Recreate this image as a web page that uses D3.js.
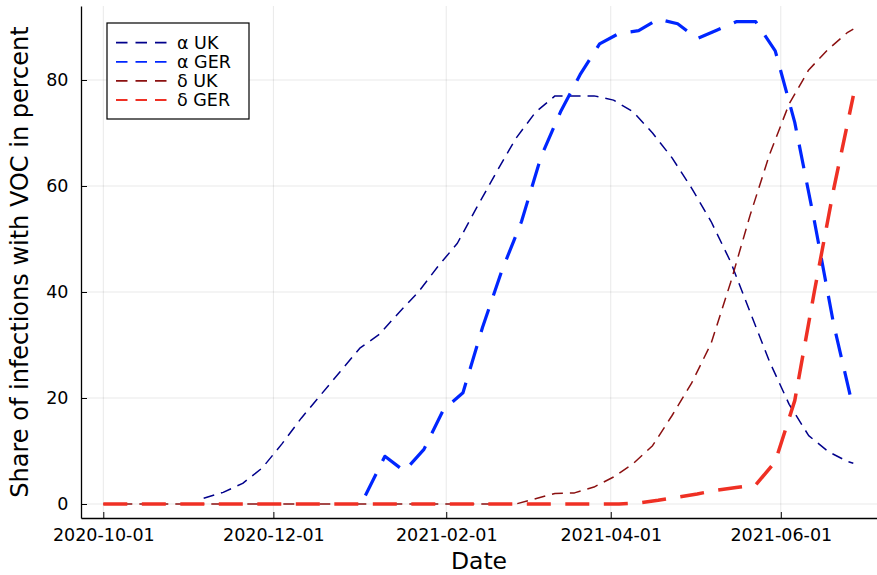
<!DOCTYPE html>
<html>
<head>
<meta charset="utf-8">
<script src="https://cdn.jsdelivr.net/npm/d3@7"></script>
<style>
  html, body { margin: 0; padding: 0; background: #fff; }
  svg { display: block; font-family: "DejaVu Sans", sans-serif; }
</style>
</head>
<body>
<svg id="chart" width="877" height="575"></svg>
<script>
// Sampling dates of the UK and German sequencing series
const ukDates = [
  "2020-10-01","2020-10-02","2020-10-09","2020-10-16","2020-10-23","2020-10-30",
  "2020-11-06","2020-11-13","2020-11-20","2020-11-27","2020-12-04","2020-12-11",
  "2020-12-18","2020-12-25","2021-01-01","2021-01-08","2021-01-15","2021-01-22",
  "2021-01-29","2021-02-05","2021-02-12","2021-02-19","2021-02-26","2021-03-05",
  "2021-03-12","2021-03-19","2021-03-26","2021-04-02","2021-04-09","2021-04-16",
  "2021-04-23","2021-04-30","2021-05-07","2021-05-14","2021-05-21","2021-05-28",
  "2021-06-04","2021-06-11","2021-06-18","2021-06-25","2021-06-27"
];
const gerDates = [
  "2020-10-01","2020-10-04","2020-10-11","2020-10-18","2020-10-25","2020-11-01",
  "2020-11-08","2020-11-15","2020-11-22","2020-11-29","2020-12-06","2020-12-13",
  "2020-12-20","2020-12-27","2021-01-03","2021-01-10","2021-01-17","2021-01-24",
  "2021-01-31","2021-02-07","2021-02-14","2021-02-21","2021-02-28","2021-03-07",
  "2021-03-14","2021-03-21","2021-03-28","2021-04-04","2021-04-11","2021-04-18",
  "2021-04-25","2021-05-02","2021-05-09","2021-05-16","2021-05-23","2021-05-30",
  "2021-06-06","2021-06-13","2021-06-20","2021-06-27"
];

// Share of infections with each variant of concern (percent); null = no report yet
const alphaUK = [
  null, null, null, null, null, null, 1.1, 2.2, 3.9, 6.8, 11.3, 16.2, 20.6, 25.0, 29.4, 32.0,
  36.1, 40.0, 44.8, 49.2, 56.0, 62.6, 69.0, 73.9, 77.0, 77.0, 77.0, 76.2, 74.0,
  70.0, 65.3, 59.6, 53.3, 45.7, 36.2, 26.8, 18.8, 12.9, 9.9, 8.0, 7.7
];
const deltaUK = [
  0, 0, 0, 0, 0, 0, 0, 0, 0, 0, 0, 0, 0, 0, 0, 0, 0, 0, 0, 0, 0, 0,
  0, 1.0, 2.0, 2.1, 3.2, 5.1, 7.6, 11.0, 16.7, 22.8, 30.3, 41.8, 54.5, 66.0,
  75.5, 81.9, 85.8, 89.0, 89.6
];
const alphaGER = [
  null, null, null, null, null, null, null, null, null, null, null, null, null, null,
  1.6, 9.0, 6.2, 10.3, 17.8, 21.0,
  33.3, 44.1, 53.3, 65.5, 74.0, 81.0, 86.8, 88.8, 89.3, 91.5, 90.6, 87.8, 89.4,
  91.0, 91.0, 85.5, 72.0, 53.5, 33.8, 18.0
];
const deltaGER = [
  0, 0, 0, 0, 0, 0, 0, 0, 0, 0, 0, 0, 0, 0, 0, 0, 0, 0, 0, 0, 0, 0, 0, 0, 0,
  0, 0, 0, 0.2, 0.7, 1.3, 1.9, 2.6, 3.1, 3.6, 8.0, 19.5, 40.0, 59.5, 77.0
];

const xTickLabels = ["2020-10-01", "2020-12-01", "2021-02-01", "2021-04-01", "2021-06-01"];
const yTicks = [0, 20, 40, 60, 80];
const seriesNames = ["α UK", "α GER", "δ UK", "δ GER"];

const parse = d3.utcParse("%Y-%m-%d");
const fmt = d3.utcFormat("%Y-%m-%d");

const series = [
  { name: seriesNames[0], dates: ukDates,  values: alphaUK,  color: "#00008b", width: 1.5, dash: "11,7" },
  { name: seriesNames[1], dates: gerDates, values: alphaGER, color: "#0026ff", width: 3.2, dash: "24,14.5" },
  { name: seriesNames[2], dates: ukDates,  values: deltaUK,  color: "#8b1010", width: 1.5, dash: "11,7" },
  { name: seriesNames[3], dates: gerDates, values: deltaGER, color: "#ef3024", width: 3.5, dash: "24,14.5" }
];

const plotLeft = 81, plotRight = 877, plotTop = 6, plotBottom = 518;

const x = d3.scaleUtc()
  .domain([new Date(Date.UTC(2020, 8, 23)), new Date(Date.UTC(2021, 6, 5, 12))])
  .range([plotLeft, plotRight]);
const y = d3.scaleLinear()
  .domain([-2.64, 93.96])
  .range([plotBottom, plotTop]);

const svg = d3.select("#chart");

// grid
const grid = svg.append("g").attr("stroke", "#000").attr("stroke-opacity", 0.09).attr("stroke-width", 1);
xTickLabels.forEach(t => {
  const px = x(parse(t));
  grid.append("line").attr("x1", px).attr("x2", px).attr("y1", plotTop).attr("y2", plotBottom);
});
yTicks.forEach(t => {
  grid.append("line").attr("x1", plotLeft).attr("x2", plotRight).attr("y1", y(t)).attr("y2", y(t));
});

// axes
const xAxis = d3.axisBottom(x)
  .tickValues(xTickLabels.map(parse))
  .tickFormat(fmt)
  .tickSizeInner(-6)
  .tickSizeOuter(0)
  .tickPadding(11);
const gx = svg.append("g").attr("transform", `translate(0,${plotBottom})`).call(xAxis);

const yAxis = d3.axisLeft(y)
  .tickValues(yTicks)
  .tickSizeInner(-6)
  .tickSizeOuter(0)
  .tickPadding(12.5);
const gy = svg.append("g").attr("transform", `translate(${plotLeft},0)`).call(yAxis);

[gx, gy].forEach(g => {
  g.select(".domain").attr("stroke", "#000").attr("stroke-width", 1.3);
  g.selectAll(".tick line").attr("stroke", "#000").attr("stroke-width", 1);
  g.selectAll(".tick text")
    .attr("fill", "#000")
    .style("font-family", "DejaVu Sans, sans-serif")
    .style("font-size", "17.5px");
});

// axis titles
svg.append("text")
  .attr("x", (plotLeft + plotRight) / 2)
  .attr("y", 569)
  .attr("text-anchor", "middle")
  .style("font-size", "23.5px")
  .text("Date");
svg.append("text")
  .attr("transform", `translate(28,${(plotTop + plotBottom) / 2}) rotate(-90)`)
  .attr("text-anchor", "middle")
  .style("font-size", "24px")
  .text("Share of infections with VOC in percent");

// series lines (gaps where no value was reported)
const line = d3.line()
  .defined(d => d.value != null)
  .x(d => x(d.date))
  .y(d => y(d.value));

series.forEach(s => {
  const pts = s.dates.map((d, i) => ({ date: parse(d), value: s.values[i] }));
  svg.append("path")
    .datum(pts)
    .attr("fill", "none")
    .attr("stroke", s.color)
    .attr("stroke-width", s.width)
    .attr("stroke-dasharray", s.dash)
    .attr("stroke-linejoin", "round")
    .attr("d", line);
});

// legend
const legend = svg.append("g");
legend.append("rect")
  .attr("x", 107).attr("y", 23)
  .attr("width", 142).attr("height", 96)
  .attr("fill", "#fff")
  .attr("stroke", "#000")
  .attr("stroke-width", 1.2);
series.forEach((s, i) => {
  const ry = 42.7 + i * 19.1;
  legend.append("line")
    .attr("x1", 116).attr("x2", 167)
    .attr("y1", ry).attr("y2", ry)
    .attr("stroke", s.color)
    .attr("stroke-width", 1.8)
    .attr("stroke-dasharray", "11.5,8");
  legend.append("text")
    .attr("x", 177)
    .attr("y", ry)
    .attr("dy", "0.35em")
    .style("font-size", "17.5px")
    .text(s.name);
});
</script>
</body>
</html>
